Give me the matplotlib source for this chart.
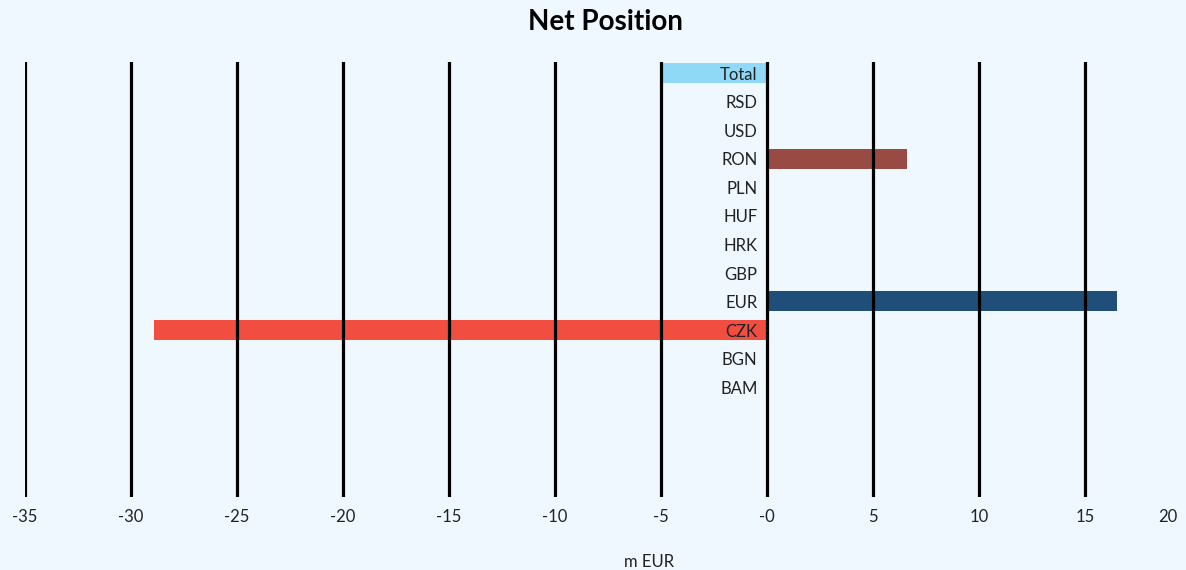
import matplotlib
matplotlib.use("Agg")
import matplotlib.pyplot as plt

categories = ["Total", "RSD", "USD", "RON", "PLN", "HUF", "HRK", "GBP", "EUR", "CZK", "BGN", "BAM"]
values = [-5.0, 0, 0, 6.6, 0, 0, 0, 0, 16.5, -28.9, 0, 0]
bar_colors = ["#8fd8f6", "#994a43", "#994a43", "#994a43", "#994a43", "#994a43",
              "#994a43", "#994a43", "#1f4e79", "#f24d41", "#994a43", "#994a43"]
tick_values = [-35, -30, -25, -20, -15, -10, -5, 0, 5, 10, 15]
tick_labels = ["-35", "-30", "-25", "-20", "-15", "-10", "-5", "-0", "5", "10", "15"]

BG = "#f0f8ff"
W, H = 1186, 570
plt.rcParams["font.family"] = ["Lato", "DejaVu Sans"]

fig = plt.figure(figsize=(W / 100, H / 100), dpi=100, facecolor=BG)
left_px, right_px, top_px, bot_px = 25, 1191, 62, 497
ax = fig.add_axes([left_px / W, 1 - bot_px / H, (right_px - left_px) / W, (bot_px - top_px) / H])
ax.set_facecolor(BG)
ax.patch.set_alpha(0)

ypos = list(range(len(categories)))
ax.barh(ypos, values, height=0.7, color=bar_colors, zorder=1)

for t in tick_values:
    ax.axvline(t, color="black", lw=2.3, zorder=2)

for y, c in zip(ypos, categories):
    ax.text(-0.45, y + 0.06, c, ha="right", va="center", fontsize=12, color="#222222", zorder=3)

ax.set_xlim(-35, 20)
ax.set_ylim(14.85, -0.385)
ax.set_yticks([])
ax.set_xticks(tick_values)
ax.set_xticklabels(tick_labels, fontsize=12, color="#222222")
ax.tick_params(axis="x", length=0, pad=8.5)
for s in ax.spines.values():
    s.set_visible(False)

# the last tick label sits inside the figure edge
fig.text(1168 / W, 1 - 517 / H, "20", ha="center", va="center", fontsize=12, color="#222222")
fig.text(649 / W, 1 - 562 / H, "m EUR", ha="center", va="center", fontsize=12, color="#222222")
fig.text(605 / W, 1 - 22 / H, "Net Position", ha="center", va="center",
         fontsize=20, fontweight="bold", color="black")

fig.savefig("out.png", dpi=100, facecolor=BG)
